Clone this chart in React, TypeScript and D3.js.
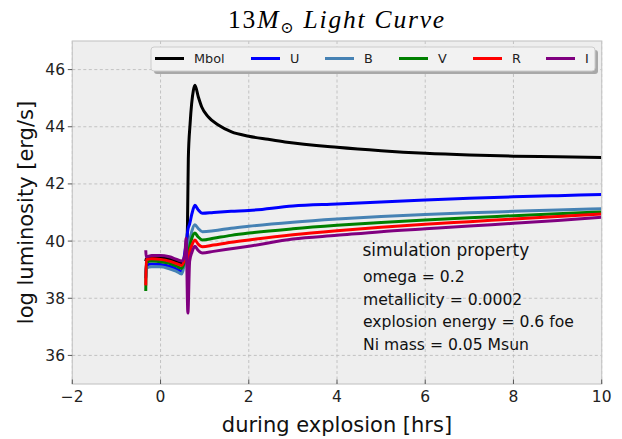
import React from "react";
import * as d3 from "d3";

const times = [-0.335, -0.325, -0.2, 0, 0.2, 0.35, 0.48, 0.55, 0.58, 0.62, 0.66, 0.71, 0.78, 0.85, 0.95, 1.2, 1.6, 2.0, 3.0, 4.0, 5.0, 6.0, 7.0, 8.0, 9.0, 10.0];

const mbolTimes = [-0.335, -0.325, -0.2, 0, 0.2, 0.35, 0.48, 0.55, 0.58, 0.61, 0.63, 0.67, 0.745, 0.78, 0.857, 0.934, 1.08, 1.31, 1.61, 2.0, 2.44, 2.82, 4.0, 5.0, 6.0, 7.0, 8.0, 9.0, 10.0];
const mbol = [39.3, 39.38, 39.42, 39.42, 39.38, 39.3, 39.22, 39.3, 39.5, 40.5, 42.9, 44.1, 45.28, 45.45, 45.04, 44.69, 44.35, 44.06, 43.82, 43.67, 43.56, 43.47, 43.28, 43.16, 43.07, 43.01, 42.97, 42.95, 42.92];
const uBand = [38.7, 39.15, 39.2, 39.18, 39.12, 39.03, 38.94, 39.6, 39.9, 40.4, 40.6, 40.95, 41.25, 41.1, 40.97, 41.0, 41.04, 41.07, 41.23, 41.3, 41.37, 41.44, 41.5, 41.55, 41.59, 41.63];
const bBand = [38.75, 39.05, 39.1, 39.1, 39.03, 38.95, 38.85, 39.3, 39.7, 39.5, 40.0, 40.35, 40.57, 40.45, 40.33, 40.36, 40.45, 40.52, 40.66, 40.77, 40.86, 40.93, 40.99, 41.04, 41.09, 41.13];
const vBand = [38.25, 39.25, 39.3, 39.28, 39.22, 39.13, 39.05, 39.35, 39.65, 39.3, 39.8, 40.1, 40.28, 40.15, 40.04, 40.1, 40.2, 40.28, 40.43, 40.55, 40.65, 40.74, 40.82, 40.89, 40.96, 41.02];
const rBand = [38.45, 39.35, 39.38, 39.36, 39.3, 39.22, 39.15, 39.4, 39.6, 39.1, 39.6, 39.85, 40.04, 39.9, 39.8, 39.86, 39.96, 40.04, 40.22, 40.36, 40.48, 40.59, 40.68, 40.77, 40.86, 40.95];
const iBand = [39.68, 39.45, 39.5, 39.5, 39.45, 39.37, 39.3, 39.5, 40.1, 37.48, 39.3, 39.6, 39.82, 39.68, 39.58, 39.64, 39.73, 39.82, 40.07, 40.2, 40.33, 40.43, 40.53, 40.62, 40.72, 40.83];

const seriesNames = ["Mbol", "U", "B", "V", "R", "I"];
const seriesColors = ["#000000", "#0000ff", "#4682b4", "#008000", "#ff0000", "#800080"];
const seriesTimes = [mbolTimes, times, times, times, times, times];
const seriesValues = [mbol, uBand, bBand, vBand, rBand, iBand];

const xTicks = [-2, 0, 2, 4, 6, 8, 10];
const yTicks = [36, 38, 40, 42, 44, 46];

const infoTitle = "simulation property";
const infoLines = ["omega = 0.2", "metallicity = 0.0002", "explosion energy = 0.6 foe", "Ni mass = 0.05 Msun"];

const W = 622;
const H = 439;
const L = 72.3, R = 601.7, T = 41, B = 384;
const FONT = "'DejaVu Sans', sans-serif";

export default function App() {
  const x = d3.scaleLinear().domain([-2, 10]).range([L, R]);
  const y = d3.scaleLinear().domain([35, 47]).range([B, T]);
  const line = d3
    .line<[number, number]>()
    .x((d) => x(d[0]))
    .y((d) => y(d[1]))
    .curve(d3.curveMonotoneX);

  const fmt = (v: number) => (v < 0 ? "\u2212" + Math.abs(v) : String(v));

  const legX = [155, 251, 325, 399, 473, 546];

  return (
    <svg width={W} height={H} style={{ position: "absolute", left: 0, top: 0, background: "#fff" }}>
      <defs>
        <clipPath id="plotclip">
          <rect x={L} y={T} width={R - L} height={B - T} />
        </clipPath>
      </defs>
      <rect x={0} y={0} width={W} height={H} fill="#fff" />
      <rect x={L} y={T} width={R - L} height={B - T} fill="#eeeeee" />
      {xTicks.map((t) => (
        <line key={"gx" + t} x1={x(t)} x2={x(t)} y1={T} y2={B} stroke="#b8b8b8" strokeWidth={0.8} strokeDasharray="3,2.5" />
      ))}
      {yTicks.map((t) => (
        <line key={"gy" + t} x1={L} x2={R} y1={y(t)} y2={y(t)} stroke="#b8b8b8" strokeWidth={0.8} strokeDasharray="3,2.5" />
      ))}
      <g clipPath="url(#plotclip)">
        {seriesValues.map((vals, i) => (
          <path
            key={seriesNames[i]}
            d={line(seriesTimes[i].map((t, j) => [t, vals[j]]) as [number, number][]) || ""}
            fill="none"
            stroke={seriesColors[i]}
            strokeWidth={3}
            strokeLinejoin="round"
            strokeLinecap="butt"
          />
        ))}
      </g>
      <rect x={L} y={T} width={R - L} height={B - T} fill="none" stroke="#c8c8c8" strokeWidth={1.2} />
      {xTicks.map((t) => (
        <g key={"xt" + t}>
          <line x1={x(t)} x2={x(t)} y1={B} y2={B - 4.5} stroke="#555" strokeWidth={1} />
          <text x={x(t)} y={402} textAnchor="middle" fontFamily={FONT} fontSize={15.5} fill="#222">
            {fmt(t)}
          </text>
        </g>
      ))}
      {yTicks.map((t) => (
        <g key={"yt" + t}>
          <line x1={L} x2={L - 4.5} y1={y(t)} y2={y(t)} stroke="#555" strokeWidth={1} />
          <text x={65} y={y(t) + 5.5} textAnchor="end" fontFamily={FONT} fontSize={15.5} fill="#222">
            {fmt(t)}
          </text>
        </g>
      ))}
      <text x={(L + R) / 2} y={432} textAnchor="middle" fontFamily={FONT} fontSize={21} fill="#111">
        during explosion [hrs]
      </text>
      <text
        transform={`translate(33, ${(T + B) / 2}) rotate(-90)`}
        textAnchor="middle"
        fontFamily={FONT}
        fontSize={21}
        fill="#111"
      >
        log luminosity [erg/s]
      </text>
      <text
        x={(L + R) / 2}
        y={28}
        textAnchor="middle"
        fontFamily="'Liberation Serif', 'DejaVu Serif', serif"
        fontSize={25.5}
        letterSpacing={1.8}
        fill="#000"
      >
        <tspan>13</tspan>
        <tspan fontStyle="italic">M</tspan>
        <tspan fontSize={16} dy={5}>⊙</tspan>
        <tspan dy={-5} fontStyle="italic"> Light Curve</tspan>
      </text>
      {/* legend */}
      <rect x={154} y={50} width={444} height={24} rx={3} fill="#a8a8a8" />
      <rect x={151} y={47} width={444} height={24} rx={3} fill="#f2f2f2" stroke="#cccccc" strokeWidth={1} />
      {seriesNames.map((n, i) => (
        <g key={"lg" + n}>
          <line x1={legX[i]} x2={legX[i] + 29} y1={58.5} y2={58.5} stroke={seriesColors[i]} strokeWidth={3} />
          <text x={legX[i] + 39} y={63} fontFamily={FONT} fontSize={12.8} fill="#222">
            {n}
          </text>
        </g>
      ))}
      <text x={362.5} y={256} fontFamily={FONT} fontSize={17} fill="#111">
        {infoTitle}
      </text>
      {infoLines.map((s, i) => (
        <text key={s} x={363} y={282 + i * 22.7} fontFamily={FONT} fontSize={15.6} fill="#111">
          {s}
        </text>
      ))}
    </svg>
  );
}
